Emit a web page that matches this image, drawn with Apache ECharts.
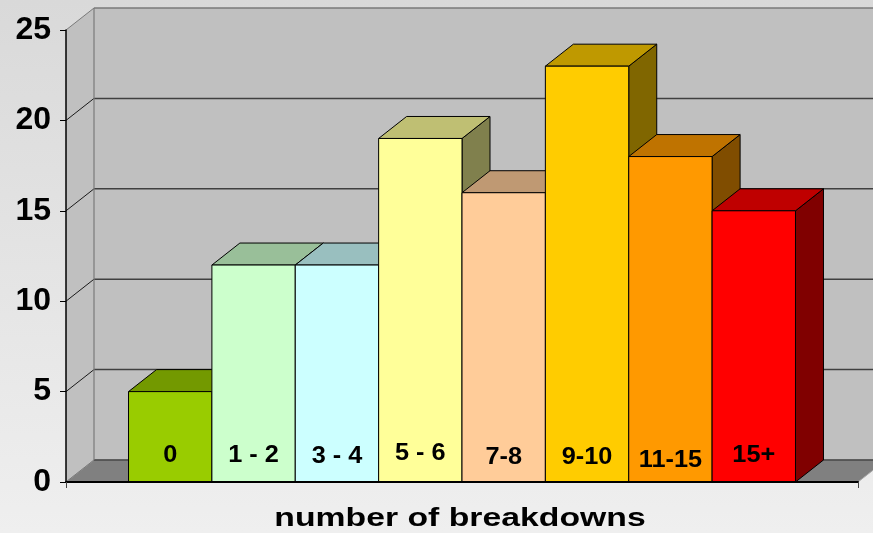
<!DOCTYPE html>
<html>
<head>
<meta charset="utf-8">
<script src="https://cdn.jsdelivr.net/npm/echarts@6/dist/echarts.min.js"></script>
<style>
  html, body { margin: 0; padding: 0; }
  #chart { width: 873px; height: 533px; }
</style>
</head>
<body>
<div id="chart"></div>
<script>
// Breakdown-count groups and how many items fall in each
const categories = ['0', '1 - 2', '3 - 4', '5 - 6', '7-8', '9-10', '11-15', '15+'];
const counts = [5, 12, 12, 19, 16, 23, 18, 15];
const barColors = ['#99cc00', '#ccffcc', '#ccffff', '#ffff99', '#ffcc99', '#ffcc00', '#ff9900', '#ff0000'];
const yTicks = [0, 5, 10, 15, 20, 25];
const axisTitle = 'number of breakdowns';

// Layout: vertical nudge (px) of each in-column label
const labelNudge = [0, 0, 1, -2, 2, 2, 5, 0];

// Oblique depth of the 3-D box (pixels)
const DEPTH_X = 28, DEPTH_Y = -22;
// Gap of 0.75 column widths on either side of the column block
const X_MIN = -1.25, X_MAX = categories.length - 1 + 1.25;
const Y_MAX = yTicks[yTicks.length - 1];
const FONT = "'Liberation Sans', Arial, Helvetica, sans-serif";

function shade(hex, k) {
  const n = parseInt(hex.slice(1), 16);
  const r = Math.round(((n >> 16) & 255) * k);
  const g = Math.round(((n >> 8) & 255) * k);
  const b = Math.round((n & 255) * k);
  return 'rgb(' + r + ',' + g + ',' + b + ')';
}
function back(p) { return [p[0] + DEPTH_X, p[1] + DEPTH_Y]; }

// Side wall, back wall, floor and gridlines
function renderWalls(params, api) {
  const fl0 = api.coord([X_MIN, 0]);
  const fr0 = api.coord([X_MAX, 0]);
  const ft = api.coord([X_MIN, Y_MAX]);
  const b0 = back(fl0), bt = back(ft), br0 = back(fr0);
  const children = [];
  children.push({ type: 'polygon', shape: { points: [b0, bt, [br0[0], bt[1]], br0] },
    style: { fill: '#c0c0c0' } });
  children.push({ type: 'polygon', shape: { points: [fl0, ft, bt, b0] },
    style: { fill: '#c0c0c0' } });
  children.push({ type: 'polygon', shape: { points: [fl0, fr0, br0, b0] },
    style: { fill: '#808080', stroke: '#a8a8a8', lineWidth: 1 } });
  yTicks.forEach(function (v) {
    const f = api.coord([X_MIN, v]);
    const bl = back(f);
    const br = back(api.coord([X_MAX, v]));
    const top = v === Y_MAX;
    children.push({ type: 'line', shape: { x1: f[0], y1: f[1], x2: bl[0], y2: bl[1] },
      style: { stroke: (top || v === 0) ? '#7a7a7a' : '#1a1a1a', lineWidth: 1 } });
    children.push({ type: 'line', shape: { x1: bl[0], y1: bl[1], x2: br[0], y2: br[1] },
      style: { stroke: top ? '#7a7a7a' : '#404040', lineWidth: 1.5 } });
  });
  children.push({ type: 'line', shape: { x1: b0[0], y1: b0[1], x2: bt[0], y2: bt[1] },
    style: { stroke: '#7a7a7a', lineWidth: 1.2 } });
  return { type: 'group', children: children };
}

// One 3-D column: right side, top, front face and its category label
function renderBar(params, api) {
  const i = api.value(0), v = api.value(1);
  const idx = params.dataIndex;
  const c = barColors[idx];
  const fl0 = api.coord([i - 0.5, 0]), flv = api.coord([i - 0.5, v]);
  const fr0 = api.coord([i + 0.5, 0]), frv = api.coord([i + 0.5, v]);
  const edge = { stroke: '#000', lineWidth: 1, lineJoin: 'round' };
  return {
    type: 'group',
    children: [
      { type: 'polygon', shape: { points: [fr0, frv, back(frv), back(fr0)] },
        style: Object.assign({ fill: shade(c, 0.5) }, edge) },
      { type: 'polygon', shape: { points: [flv, frv, back(frv), back(flv)] },
        style: Object.assign({ fill: shade(c, 0.75) }, edge) },
      { type: 'rect', shape: { x: flv[0], y: flv[1], width: frv[0] - flv[0], height: fl0[1] - flv[1] },
        style: Object.assign({ fill: c }, edge) },
      { type: 'text', x: (fl0[0] + fr0[0]) / 2, y: fl0[1] - 26 + labelNudge[idx], scaleX: 1.1,
        style: { text: categories[idx], fill: '#000', font: 'bold 23px ' + FONT,
          align: 'center', verticalAlign: 'middle' } }
    ]
  };
}

const chart = echarts.init(document.getElementById('chart'));
chart.setOption({
  animation: false,
  backgroundColor: {
    type: 'linear', x: 0, y: 0, x2: 0, y2: 1,
    colorStops: [{ offset: 0, color: '#d9d9d9' }, { offset: 1, color: '#efefef' }]
  },
  grid: { left: 66, right: 15, top: 30, bottom: 51 },
  xAxis: {
    type: 'value', min: X_MIN, max: X_MAX, interval: X_MAX - X_MIN, z: 10,
    axisLine: { show: true, onZero: false, lineStyle: { color: '#000', width: 2 } },
    axisTick: { show: true, length: 6, lineStyle: { color: '#444', width: 1 } },
    axisLabel: { show: false },
    splitLine: { show: false }
  },
  yAxis: {
    type: 'value', min: 0, max: Y_MAX, interval: 5, z: 10,
    axisLine: { show: true, onZero: false, lineStyle: { color: '#000', width: 1.5 } },
    axisTick: { show: true, length: 6, lineStyle: { color: '#000', width: 1 } },
    axisLabel: { margin: 15, color: '#000', fontSize: 32, fontWeight: 'bold', fontFamily: FONT },
    splitLine: { show: false }
  },
  graphic: [{
    type: 'text', x: 460, y: 519, scaleX: 1.35, z: 100,
    style: { text: axisTitle, fill: '#000', font: 'bold 25px ' + FONT,
      align: 'center', verticalAlign: 'middle' }
  }],
  series: [
    { type: 'custom', z: 1, clip: false, renderItem: renderWalls, data: [[0, 0]], silent: true },
    { type: 'custom', z: 2, clip: false, renderItem: renderBar,
      data: counts.map(function (v, i) { return [i, v]; }) }
  ]
});
</script>
</body>
</html>
